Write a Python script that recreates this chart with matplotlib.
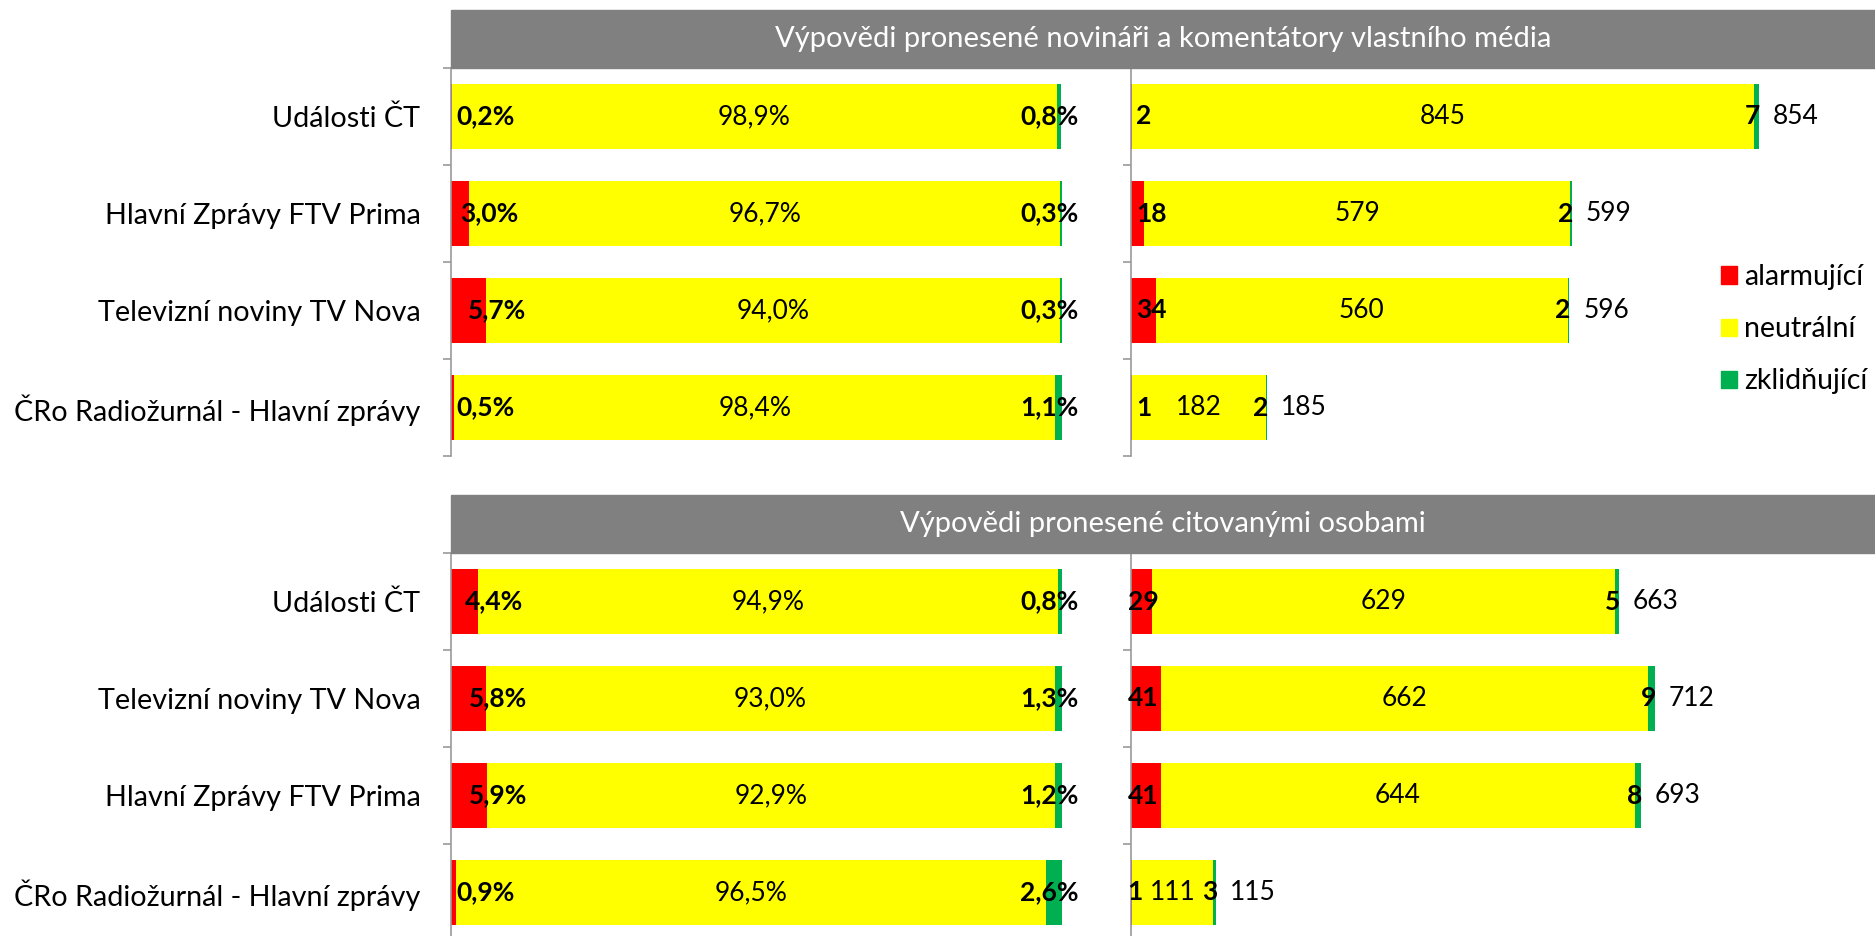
import matplotlib.pyplot as plt
from matplotlib.patches import Patch, Rectangle

plt.rcParams['font.family'] = ['Lato', 'DejaVu Sans']

# data - vypovedi novinaru (horni) a citovanych osob (dolni)
kat_top = ["Události ČT", "Hlavní Zprávy FTV Prima", "Televizní noviny TV Nova",
           "ČRo Radiožurnál - Hlavní zprávy"]
pct_top_alarm = [0.2, 3.0, 5.7, 0.5]
pct_top_neutr = [98.9, 96.7, 94.0, 98.4]
pct_top_klid = [0.8, 0.3, 0.3, 1.1]
cnt_top_alarm = [2, 18, 34, 1]
cnt_top_neutr = [845, 579, 560, 182]
cnt_top_klid = [7, 2, 2, 2]
cnt_top_total = [854, 599, 596, 185]

kat_bot = ["Události ČT", "Televizní noviny TV Nova", "Hlavní Zprávy FTV Prima",
           "ČRo Radiožurnál - Hlavní zprávy"]
pct_bot_alarm = [4.4, 5.8, 5.9, 0.9]
pct_bot_neutr = [94.9, 93.0, 92.9, 96.5]
pct_bot_klid = [0.8, 1.3, 1.2, 2.6]
cnt_bot_alarm = [29, 41, 41, 1]
cnt_bot_neutr = [629, 662, 644, 111]
cnt_bot_klid = [5, 9, 8, 3]
cnt_bot_total = [663, 712, 693, 115]

nadpisy = ["Výpovědi pronesené novináři a komentátory vlastního média",
           "Výpovědi pronesené citovanými osobami"]
legenda = ["alarmující", "neutrální", "zklidňující"]

RED = "#FF0000"
YEL = "#FFFF00"
GRN = "#00B050"
GREY = "#808080"
FS = 19

W, H = 1875, 936
fig = plt.figure(figsize=(W / 100, H / 100), dpi=100)


def box(x0, y0, x1, y1):
    return [x0 / W, 1 - y1 / H, (x1 - x0) / W, (y1 - y0) / H]


def osy(ax, labels=None):
    n = 4
    ax.set_ylim(n - 0.5, -0.5)
    ax.set_yticks(range(n))
    if labels:
        ax.set_yticklabels(labels, fontsize=20.7)
    else:
        ax.set_yticklabels([])
    ax.set_yticks([i - 0.5 for i in range(n + 1)], minor=True)
    ax.tick_params(axis='y', which='major', length=0, pad=22)
    ax.tick_params(axis='y', which='minor', length=6, color="#9a9a9a", width=1.2)
    for s in ["top", "right", "bottom"]:
        ax.spines[s].set_visible(False)
    ax.spines["left"].set_color("#9a9a9a")
    ax.spines["left"].set_linewidth(1.2)
    ax.set_xticks([])


def panel(y0, y1, labels, pa, pn, pk, ca, cn, ck, ct, nadpis, off_a):
    # banner
    fig.patches.append(Rectangle((451 / W, 1 - (y0) / H), (W - 451) / W, 58 / H,
                                 transform=fig.transFigure, color=GREY, zorder=0))
    fig.text((451 + W) / 2 / W, 1 - (y0 - 29) / H, nadpis, color="white",
             ha="center", va="center", fontsize=21)

    y = list(range(4))
    h = 0.68
    # procenta
    ax = fig.add_axes(box(451, y0, 1062, y1))
    left_n = pa
    left_k = [a + b for a, b in zip(pa, pn)]
    ax.barh(y, pa, height=h, color=RED)
    ax.barh(y, pn, left=left_n, height=h, color=YEL)
    ax.barh(y, pk, left=left_k, height=h, color=GRN)
    ax.set_xlim(0, 100)
    osy(ax, labels)
    for i in y:
        ax.text(max(0.8, pa[i] * 0.5), i, f"{pa[i]:.1f}%".replace(".", ","),
                ha="left", va="center", fontsize=FS, fontweight="bold")
        ax.text(pa[i] + pn[i] / 2, i, f"{pn[i]:.1f}%".replace(".", ","),
                ha="center", va="center", fontsize=FS)
        ax.annotate(f"{pk[i]:.1f}%".replace(".", ","), (100, i), xytext=(12, 0),
                    textcoords="offset points", ha="right", va="center",
                    fontsize=FS, fontweight="bold", annotation_clip=False)

    # pocty
    ax2 = fig.add_axes(box(1131, y0, W, y1))
    ax2.barh(y, ca, height=h, color=RED)
    ax2.barh(y, cn, left=ca, height=h, color=YEL)
    ax2.barh(y, ck, left=[a + b for a, b in zip(ca, cn)], height=h, color=GRN)
    ax2.set_xlim(0, (W - 1131) / 0.7354)
    osy(ax2)
    for i in y:
        end = ca[i] + cn[i] + ck[i]
        ax2.annotate(str(ca[i]), (0, i), xytext=(off_a, 0), textcoords="offset points",
                     ha="left", va="center", fontsize=FS, fontweight="bold",
                     annotation_clip=False)
        ax2.text(ca[i] + cn[i] / 2, i, str(cn[i]), ha="center", va="center", fontsize=FS)
        ax2.annotate(str(ck[i]), (end, i), xytext=(1, 0), textcoords="offset points",
                     ha="right", va="center", fontsize=FS, fontweight="bold")
        ax2.annotate(str(ct[i]), (end, i), xytext=(10, 0), textcoords="offset points",
                     ha="left", va="center", fontsize=FS)


panel(68, 456, kat_top, pct_top_alarm, pct_top_neutr, pct_top_klid,
      cnt_top_alarm, cnt_top_neutr, cnt_top_klid, cnt_top_total, nadpisy[0], 3.5)
panel(553, 941, kat_bot, pct_bot_alarm, pct_bot_neutr, pct_bot_klid,
      cnt_bot_alarm, cnt_bot_neutr, cnt_bot_klid, cnt_bot_total, nadpisy[1], -2.5)

handles = [Patch(color=c) for c in [RED, YEL, GRN]]
fig.legend(handles, legenda, loc="upper left", bbox_to_anchor=(1721 / W, 1 - 264 / H),
           frameon=False, fontsize=20.5, handlelength=0.55, handleheight=0.55,
           handletextpad=0.25, labelspacing=0.92, borderaxespad=0, borderpad=0)

fig.savefig("out.png", dpi=100)
